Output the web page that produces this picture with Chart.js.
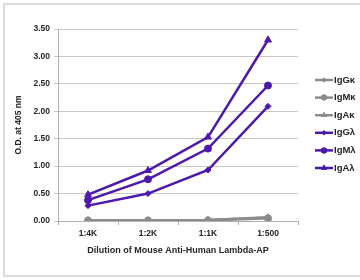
<!DOCTYPE html>
<html>
<head>
<meta charset="utf-8">
<script src="https://cdn.jsdelivr.net/npm/chart.js@4"></script>
<style>
html,body{margin:0;padding:0;background:#fff;}
#wrap{width:360px;height:280px;position:relative;}
</style>
</head>
<body>
<div id="wrap"><canvas id="c" width="360" height="280"></canvas></div>
<script>
const categories = ["1:4K", "1:2K", "1:1K", "1:500"];
const seriesNames = ["IgG\u03BA", "IgM\u03BA", "IgA\u03BA", "IgG\u03BB", "IgM\u03BB", "IgA\u03BB"];
const IgGk = [0.01, 0.01, 0.02, 0.07];
const IgMk = [0.01, 0.01, 0.01, 0.05];
const IgAk = [0.01, 0.01, 0.02, 0.06];
const IgGl = [0.28, 0.50, 0.93, 2.09];
const IgMl = [0.38, 0.76, 1.32, 2.47];
const IgAl = [0.48, 0.92, 1.53, 3.30];
const yTicks = [0, 0.5, 1, 1.5, 2, 2.5, 3, 3.5];

const GRAY = '#8c8c8c';
const PURPLE = '#4d18ad';
const styles = ['rectRot', 'circle', 'triangle', 'rectRot', 'circle', 'triangle'];
const radii = {rectRot: 3, circle: 3.5, triangle: 4};
const values = [IgGk, IgMk, IgAk, IgGl, IgMl, IgAl];

const datasets = values.map((v, i) => {
  const col = i < 3 ? GRAY : PURPLE;
  return {
    label: seriesNames[i],
    data: v,
    borderColor: col,
    backgroundColor: col,
    borderWidth: 2.5,
    pointStyle: styles[i],
    pointRadius: radii[styles[i]],
    pointBorderWidth: 1,
    tension: 0
  };
});

const FONT = '"Liberation Sans", Arial, sans-serif';
const TXT = '#262626';

const framePlugin = {
  id: 'frame',
  beforeDraw(chart) {
    const ctx = chart.ctx;
    ctx.save();
    ctx.fillStyle = '#fff';
    ctx.fillRect(0, 0, 360, 280);
    ctx.strokeStyle = '#dadada';
    ctx.lineWidth = 2;
    ctx.beginPath();
    ctx.moveTo(360, 4); ctx.lineTo(4, 4); ctx.lineTo(4, 276); ctx.lineTo(360, 276);
    ctx.stroke();
    ctx.restore();
  }
};

const legendPlugin = {
  id: 'customLegend',
  afterDraw(chart) {
    const ctx = chart.ctx;
    ctx.save();
    chart.data.datasets.forEach((ds, i) => {
      const y = 80 + i * 17.6;
      ctx.strokeStyle = ds.borderColor;
      ctx.lineWidth = 2.5;
      ctx.beginPath();
      ctx.moveTo(315, y); ctx.lineTo(333, y);
      ctx.stroke();
      ctx.fillStyle = ds.borderColor;
      Chart.helpers.drawPoint(ctx, {pointStyle: ds.pointStyle, radius: ds.pointRadius - 0.5, rotation: 0, borderWidth: 0}, 324, y);
      ctx.fill();
      ctx.fillStyle = TXT;
      ctx.font = 'bold 9.5px ' + FONT;
      ctx.textBaseline = 'middle';
      ctx.textAlign = 'left';
      ctx.fillText(ds.label, 334, y);
    });
    ctx.restore();
  }
};

new Chart(document.getElementById('c'), {
  type: 'line',
  data: {labels: categories, datasets},
  plugins: [framePlugin, legendPlugin],
  options: {
    responsive: false,
    animation: false,
    devicePixelRatio: 1,
    layout: {padding: {left: 0, right: 62, top: 29, bottom: 0}},
    plugins: {legend: {display: false}, tooltip: {enabled: false}},
    scales: {
      x: {
        offset: true,
        afterFit: s => { s.height = 59; },
        grid: {display: true, offset: true, drawOnChartArea: false, drawTicks: true, tickLength: 4, color: '#b0b0b0'},
        border: {display: true, color: '#b0b0b0', width: 1},
        ticks: {color: TXT, font: {family: FONT, size: 8.5, weight: 'bold'}, padding: 4, maxRotation: 0},
        title: {display: true, text: 'Dilution of Mouse Anti-Human Lambda-AP', color: TXT, font: {family: FONT, size: 9, weight: 'bold'}, padding: {top: 0, bottom: 24}}
      },
      y: {
        min: 0, max: 3.5,
        afterFit: s => { s.width = 58; },
        afterBuildTicks: s => { s.ticks = yTicks.map(v => ({value: v})); },
        grid: {color: '#c8c8c8', tickLength: 4, drawTicks: true},
        border: {display: true, color: '#b0b0b0'},
        ticks: {color: TXT, font: {family: FONT, size: 8.5, weight: 'bold'}, padding: 4, callback: v => Number(v).toFixed(2)},
        title: {display: true, text: 'O.D. at 405 nm', color: TXT, font: {family: FONT, size: 8.5, weight: 'bold'}, padding: {top: 14, bottom: 0}}
      }
    }
  }
});
</script>
</body>
</html>
